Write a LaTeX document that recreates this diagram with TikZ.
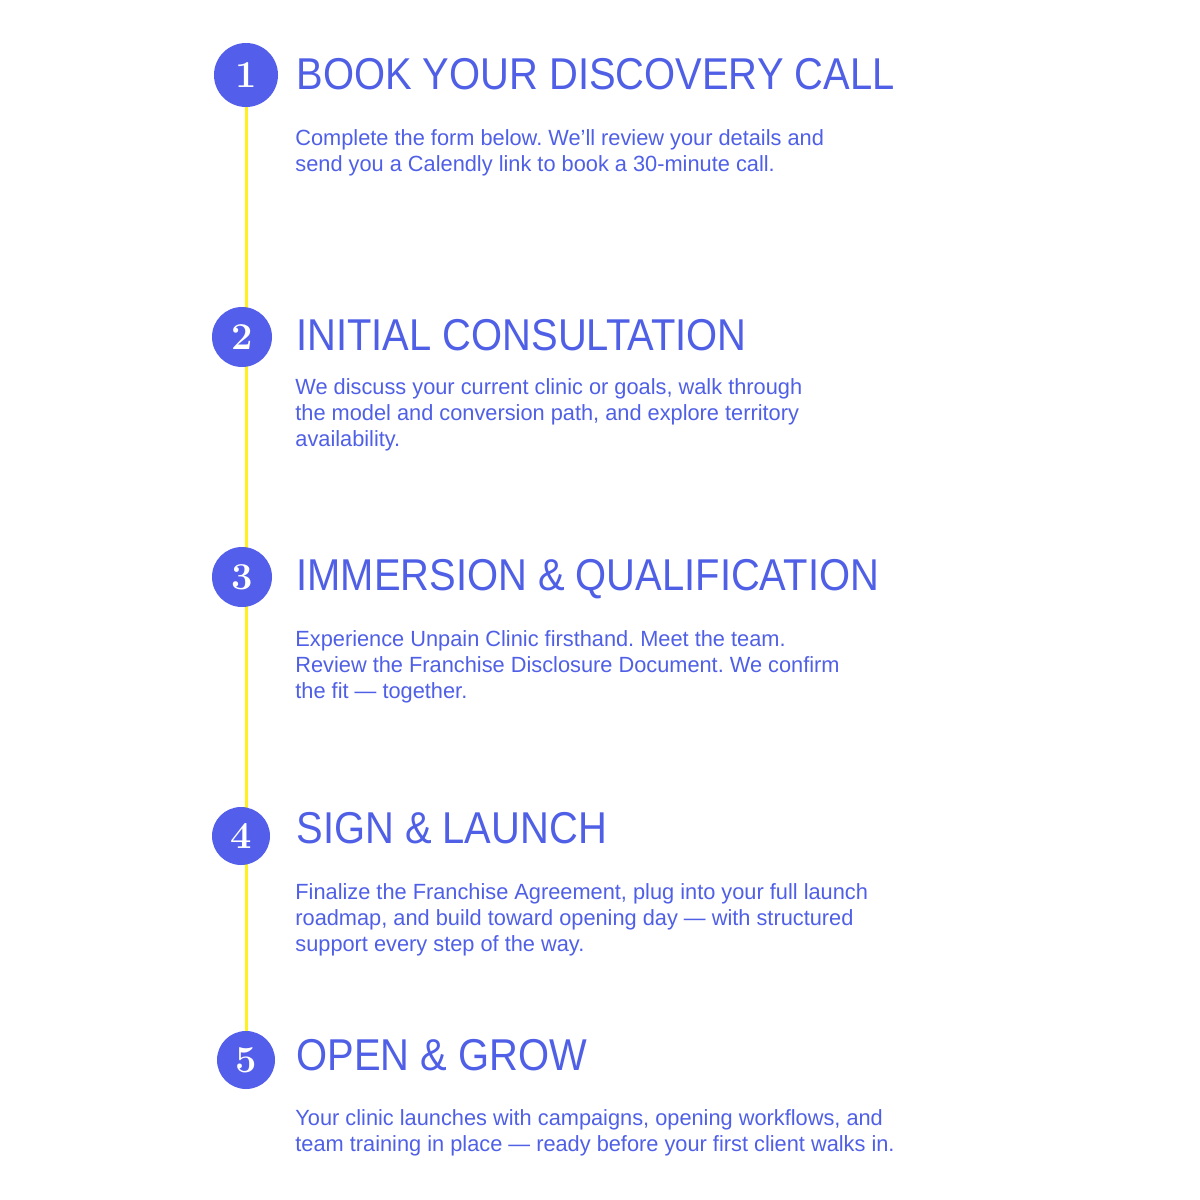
\documentclass[tikz,border=0pt]{standalone}
\usepackage{fontspec}
\setmainfont[Ligatures=ResetAll,FakeStretch=0.99]{Liberation Sans}
\newfontfamily\titlefont[FakeStretch=0.895]{Liberation Sans}
\newfontfamily\numfont{Latin Modern Roman}
\definecolor{ink}{HTML}{5060E6}
\definecolor{disc}{HTML}{535FEA}
\definecolor{rail}{HTML}{FFF022}
\frenchspacing
\tikzset{
  stepdisc/.style={circle, fill=disc, text=white, inner sep=0pt, font=\numfont\bfseries\fontsize{19}{19}\selectfont},
  steptitle/.style={anchor=base west, inner sep=0pt, text=ink, font=\titlefont\fontsize{22.3}{22.3}\selectfont},
  stepbody/.style={anchor=base west, inner sep=0pt, text=ink, align=left, font=\frenchspacing\fontsize{11}{13}\selectfont},
}
\begin{document}
\begin{tikzpicture}[x=0.5pt,y=-0.5pt]
\useasboundingbox[fill=white] (0,0) rectangle (1200,1200);
\coordinate (top) at (246.5,100);
\coordinate (bot) at (246.5,1040);
\draw[rail, line width=1.1pt] (top) -- (bot);
\node[stepdisc, minimum size=32pt] (c1) at (246,75) {1};
\node[stepdisc, minimum size=30pt] (c2) at (242,337) {2};
\node[stepdisc, minimum size=30pt] (c3) at (242,577) {3};
\node[stepdisc, minimum size=29pt] (c4) at (241,836) {4};
\node[stepdisc, minimum size=29pt] (c5) at (246,1060) {5};

\node[steptitle] (t1) at (296,89) {BOOK YOUR DISCOVERY CALL};
\node[steptitle] (t2) at (296,350) {INITIAL CONSULTATION};
\node[steptitle] (t3) at (296,590) {IMMERSION \& QUALIFICATION};
\node[steptitle] (t4) at (296,843) {SIGN \& LAUNCH};
\node[steptitle] (t5) at (296,1070) {OPEN \& GROW};

\node[stepbody] (b1) at (295,171) {Complete the form below. We'll review your details and\\send you a Calendly link to book a 30-minute call.};
\node[stepbody] (b2) at (295,446) {We discuss your current clinic or goals, walk through\\the model and conversion path, and explore territory\\availability.};
\node[stepbody] (b3) at (295,698) {Experience Unpain Clinic firsthand. Meet the team.\\Review the Franchise Disclosure Document. We confirm\\the fit — together.};
\node[stepbody] (b4) at (295,951) {Finalize the Franchise Agreement, plug into your full launch\\roadmap, and build toward opening day — with structured\\support every step of the way.};
\node[stepbody] (b5) at (295,1151) {Your clinic launches with campaigns, opening workflows, and\\team training in place — ready before your first client walks in.};
\end{tikzpicture}
\end{document}
